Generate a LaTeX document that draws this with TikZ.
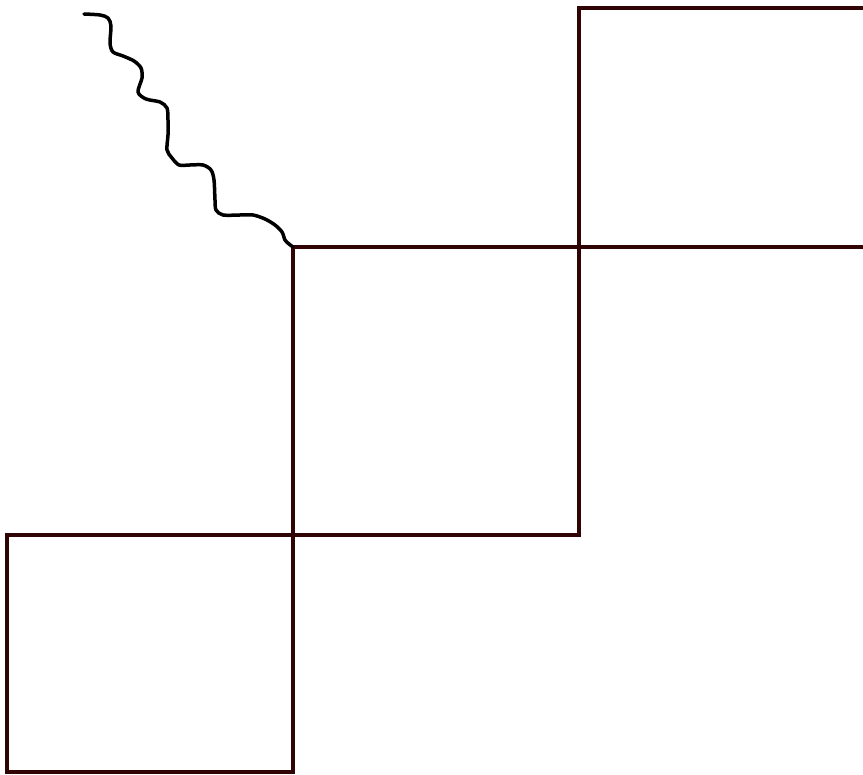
\documentclass[tikz,border=0pt]{standalone}
\definecolor{boxline}{HTML}{300404}
\begin{document}
\begin{tikzpicture}[x=1pt,y=-1pt,
  boxstyle/.style={draw=boxline,line width=4.5pt,line join=miter},
  wavestyle/.style={draw=black,line width=3.5pt,line cap=round,line join=round}]
\useasboundingbox (0,0) rectangle (863,775);
\fill[white] (0,0) rectangle (863,775);
% squares
\draw[boxstyle] (7,535) rectangle (293,772);
\draw[boxstyle] (293,247) rectangle (579,535);
\draw[boxstyle] (865,8) -- (579,8) -- (579,247) -- (865,247);
% wavy line
\draw[wavestyle] plot[smooth,tension=0.5] coordinates {
 (84,14) (100,15) (108,18) (111,26) (110,43) (113,52) (123,56) (134,61) (141,68) (142,78) (138,92) (146,99) (160,102) (167,108) (168,120) (168,135) (167,150) (172,158) (179,165) (190,165) (203,165) (211,170) (214,180) (215,200) (216,210) (223,215) (240,215) (253,215) (265,219) (275,225) (282,232) (285,240) (289,244) (293,247)};
\end{tikzpicture}
\end{document}
